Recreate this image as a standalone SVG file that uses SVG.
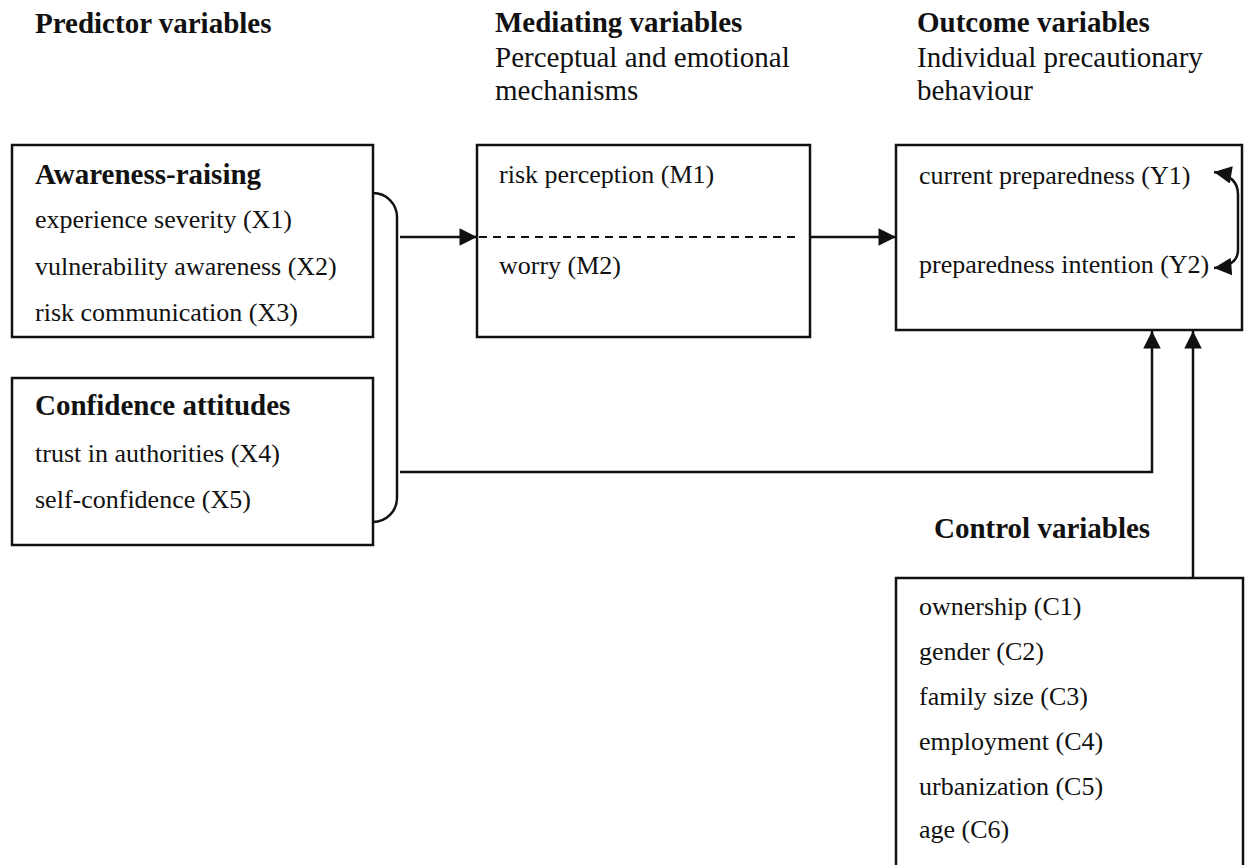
<svg xmlns="http://www.w3.org/2000/svg" width="1247" height="865" viewBox="0 0 1247 865">
<style>
text{font-family:"Liberation Serif","Times New Roman",serif;fill:#111}
.h{font-size:29px;font-weight:bold}
.s{font-size:29px}
.t{font-size:26px}
.box{fill:#fff;stroke:#111;stroke-width:2.5}
.ln{fill:none;stroke:#111;stroke-width:2.5}
</style>
<defs>
<marker id="ah" viewBox="0 0 10 10" refX="10" refY="5" markerWidth="7.5" markerHeight="7" markerUnits="strokeWidth" orient="auto-start-reverse">
<path d="M0,0 L10,5 L0,10 Z" fill="#111"/>
</marker>
</defs>
<rect width="1247" height="865" fill="#fff"/>
<g id="headers">
<text class="h" x="35" y="33">Predictor variables</text>
<text class="h" x="495" y="32">Mediating variables</text>
<text class="s" x="495" y="67">Perceptual and emotional</text>
<text class="s" x="495" y="100">mechanisms</text>
<text class="h" x="917" y="32">Outcome variables</text>
<text class="s" x="917" y="67">Individual precautionary</text>
<text class="s" x="917" y="100">behaviour</text>
</g>
<g id="awareness">
<rect class="box" x="12" y="145" width="361" height="192"/>
<text class="h" x="35" y="184">Awareness-raising</text>
<text class="t" x="35" y="228">experience severity (X1)</text>
<text class="t" x="35" y="275">vulnerability awareness (X2)</text>
<text class="t" x="35" y="321">risk communication (X3)</text>
</g>
<g id="confidence">
<rect class="box" x="12" y="378" width="361" height="167"/>
<text class="h" x="35" y="415">Confidence attitudes</text>
<text class="t" x="35" y="462">trust in authorities (X4)</text>
<text class="t" x="35" y="508">self-confidence (X5)</text>
</g>
<g id="mediating">
<rect class="box" x="477" y="145" width="333" height="192"/>
<line x1="479" y1="237" x2="800" y2="237" stroke="#111" stroke-width="2" stroke-dasharray="8,6"/>
<text class="t" x="499" y="183">risk perception (M1)</text>
<text class="t" x="499" y="274">worry (M2)</text>
</g>
<g id="outcome">
<rect class="box" x="896" y="145" width="346" height="185"/>
<text class="t" x="919" y="184">current preparedness (Y1)</text>
<text class="t" x="919" y="273">preparedness intention (Y2)</text>
</g>
<g id="control">
<text class="h" x="934" y="538">Control variables</text>
<rect class="box" x="896" y="578" width="347" height="300"/>
<text class="t" x="919" y="615">ownership (C1)</text>
<text class="t" x="919" y="660">gender (C2)</text>
<text class="t" x="919" y="705">family size (C3)</text>
<text class="t" x="919" y="750">employment (C4)</text>
<text class="t" x="919" y="795">urbanization (C5)</text>
<text class="t" x="919" y="838">age (C6)</text>
</g>
<g id="connectors">
<path class="ln" d="M373,193 A24,24 0 0 1 397,217 L397,498 A24,24 0 0 1 373,522"/>
<line class="ln" x1="400" y1="237" x2="477" y2="237" marker-end="url(#ah)"/>
<line class="ln" x1="810" y1="237" x2="896" y2="237" marker-end="url(#ah)"/>
<path class="ln" d="M400,472 L1152,472 L1152,331" marker-end="url(#ah)"/>
<line class="ln" x1="1193" y1="578" x2="1193" y2="331" marker-end="url(#ah)"/>
<path class="ln" d="M1214,172 Q1238,176 1238,194 L1238,250 Q1238,266 1214,268" marker-start="url(#ah)" marker-end="url(#ah)"/>
</g>
</svg>
